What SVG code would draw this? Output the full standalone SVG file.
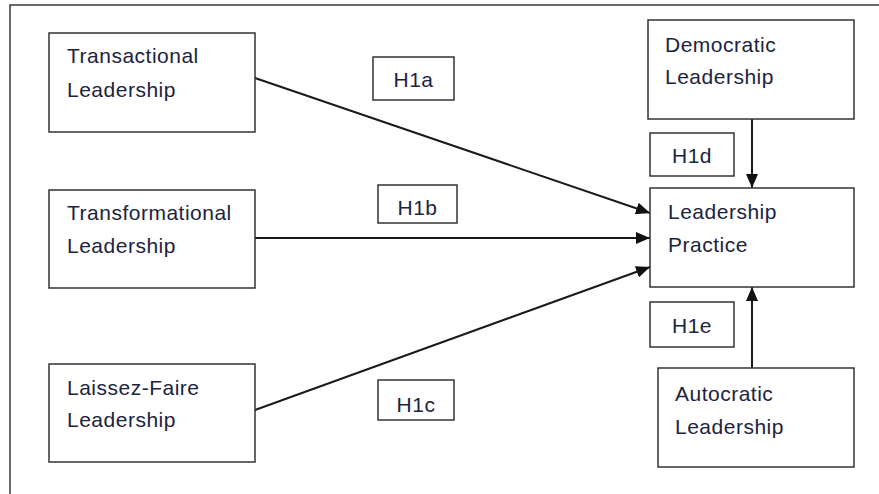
<svg xmlns="http://www.w3.org/2000/svg" width="879" height="494" viewBox="0 0 879 494">
  <style>
    .box { fill: #ffffff; stroke: #333333; stroke-width: 1.5; }
    .frame { fill: none; stroke: #3a3a3a; stroke-width: 1.5; }
    .label { font-family: "Liberation Sans", Arial, sans-serif; font-size: 21px; letter-spacing: 0.5px; fill: #1c2340; }
    .hyp { font-family: "Liberation Sans", Arial, sans-serif; font-size: 21px; letter-spacing: 0.5px; fill: #1c2340; text-anchor: middle; }
    .link { fill: none; stroke: #1a1a1a; stroke-width: 2; marker-end: url(#arrow); }
  </style>
  <defs>
    <marker id="arrow" markerUnits="userSpaceOnUse" markerWidth="14" markerHeight="12" viewBox="0 0 14 12" refX="14" refY="6" orient="auto">
      <path d="M0,0 L14,6 L0,12 Z" fill="#111111"/>
    </marker>
  </defs>

  <rect width="879" height="494" fill="#ffffff"/>

  <!-- outer frame: top and left edges -->
  <path class="frame" d="M10,494 L10,5 L879,5"/>

  <!-- connectors -->
  <g id="connectors">
    <line class="link" x1="255" y1="78" x2="650" y2="213"/>
    <line class="link" x1="255" y1="238" x2="650" y2="238"/>
    <line class="link" x1="255" y1="410" x2="650" y2="267"/>
    <line class="link" x1="752" y1="119" x2="752" y2="188"/>
    <line class="link" x1="752" y1="368" x2="752" y2="287"/>
  </g>

  <g id="transactional">
    <rect class="box" x="49" y="33" width="206" height="99"/>
    <text class="label" x="67" y="63">Transactional</text>
    <text class="label" x="67" y="97">Leadership</text>
  </g>

  <g id="transformational">
    <rect class="box" x="49" y="190" width="206" height="98"/>
    <text class="label" x="67" y="220">Transformational</text>
    <text class="label" x="67" y="253">Leadership</text>
  </g>

  <g id="laissez-faire">
    <rect class="box" x="49" y="364" width="206" height="98"/>
    <text class="label" x="67" y="395">Laissez-Faire</text>
    <text class="label" x="67" y="427">Leadership</text>
  </g>

  <g id="democratic">
    <rect class="box" x="648" y="20" width="206" height="99"/>
    <text class="label" x="665" y="52">Democratic</text>
    <text class="label" x="665" y="84">Leadership</text>
  </g>

  <g id="leadership-practice">
    <rect class="box" x="650" y="188" width="204" height="99"/>
    <text class="label" x="668" y="219">Leadership</text>
    <text class="label" x="668" y="252">Practice</text>
  </g>

  <g id="autocratic">
    <rect class="box" x="658" y="368" width="196" height="99"/>
    <text class="label" x="675" y="401">Autocratic</text>
    <text class="label" x="675" y="434">Leadership</text>
  </g>

  <g id="h1a">
    <rect class="box" x="373" y="57" width="81" height="43"/>
    <text class="hyp" x="413.5" y="87">H1a</text>
  </g>

  <g id="h1b">
    <rect class="box" x="378" y="185" width="79" height="38"/>
    <text class="hyp" x="417.5" y="215">H1b</text>
  </g>

  <g id="h1c">
    <rect class="box" x="378" y="380" width="76" height="40"/>
    <text class="hyp" x="416" y="412">H1c</text>
  </g>

  <g id="h1d">
    <rect class="box" x="650" y="133" width="84" height="43"/>
    <text class="hyp" x="692" y="163">H1d</text>
  </g>

  <g id="h1e">
    <rect class="box" x="650" y="302" width="84" height="45"/>
    <text class="hyp" x="692" y="333">H1e</text>
  </g>
</svg>
